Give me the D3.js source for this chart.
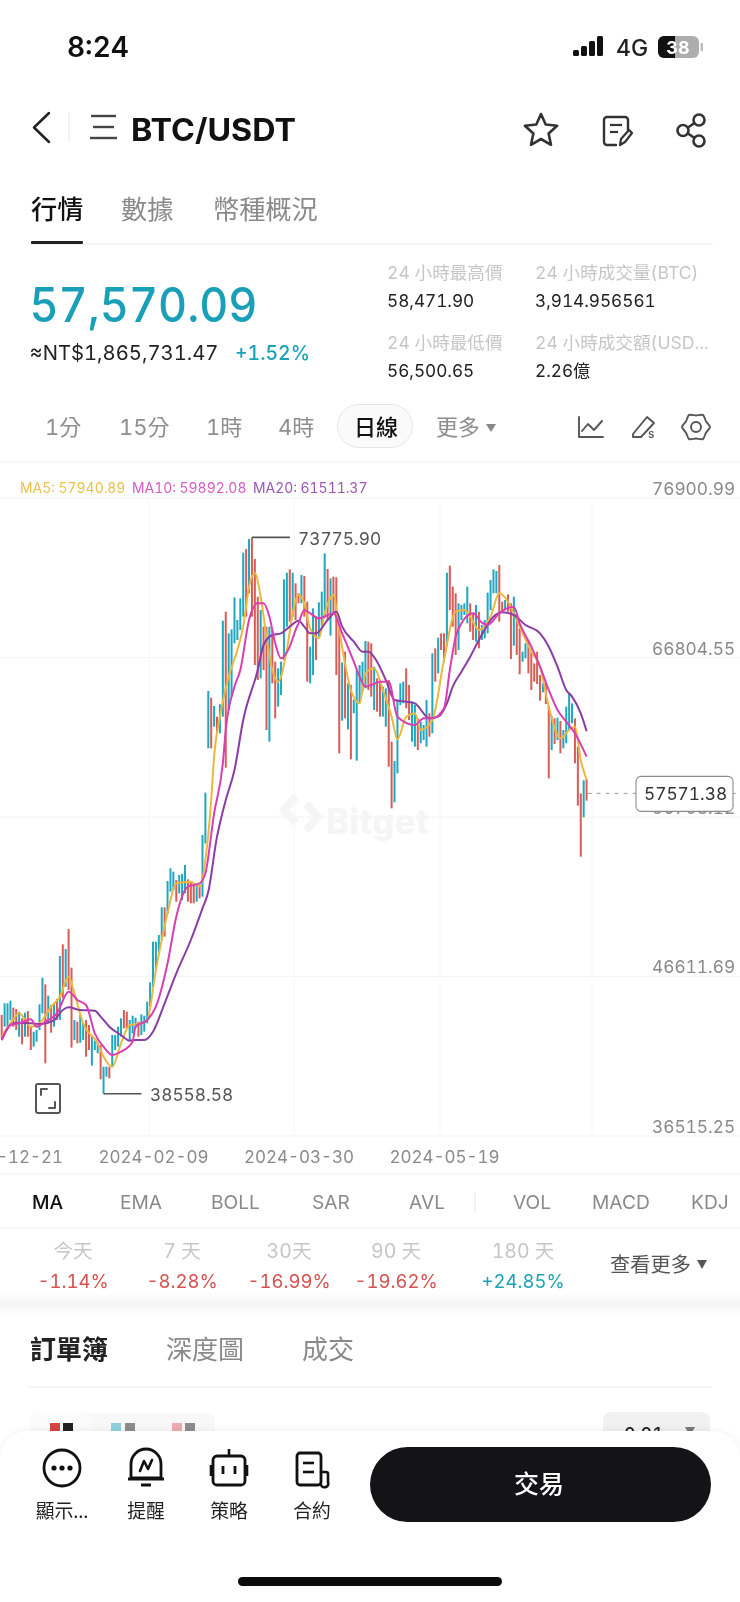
<!DOCTYPE html>
<html><head><meta charset="utf-8">
<script src="https://cdnjs.cloudflare.com/ajax/libs/d3/7.8.5/d3.min.js"></script>
<style>
html,body{margin:0;padding:0;background:#fff;overflow:hidden}
svg{display:block;filter:blur(.35px)}
text{font-family:Inter,"Noto Sans CJK TC",sans-serif;font-feature-settings:"tnum";font-variant-numeric:tabular-nums}
</style></head><body><svg id="c" width="740" height="1602" viewBox="0 0 740 1602"></svg>
<script>
// ---------- data ----------
const firstDay = "2023-12-19";
const highs = [
43541,44280,44280,44449,44006,43921,43752,43330,43689,43795,
42803,42486,42592,44217,45905,45483,44765,44174,44238,44555,
47276,48015,47719,48985,46538,43225,43119,43541,43014,43225,
42908,42212,41917,41790,41642,40271,40271,40271,42275,42275,
42803,43330,43858,43752,43225,43499,43373,43119,43584,43499,
44385,45609,48184,48184,48605,50357,50357,52024,52826,52614,
52087,52404,52467,53036,52129,51981,51876,51876,51771,54935,
57615,64051,63629,63101,62426,63207,68503,69073,67701,67954,
69980,68545,69916,72807,73039,73672,73775.9,72406,70022,69178,
68123,68123,68123,67912,65908,65486,65908,71119,71541,71752,
71541,70866,70233,71394,71330,69705,66857,69283,68756,69663,
70338,72765,71773,71183,71288,71246,67912,65865,66541,64536,
64431,63500,65380,65696,65907,67216,67174,67068,65591,64853,
64747,64325,64220,64747,60843,59620,63480,64536,64642,65485,
64430,63376,63165,62320,62110,61899,63481,62637,66435,66751,
67427,67700,67700,71541,71984,70655,70233,69600,69495,69600,
70655,69600,68967,69495,69072,68228,68545,70275,71077,71752,
71647,72026,69705,69811,70170,69600,70022,68967,68017,66541,
67068,67279,66541,65802,66541,65063,64536,64536,63122,62468,
62320,62363,62152,61582,63059,63903,63270,62320,60527,57573,
58400,58471.9];
const lows = [
42064,42803,42803,43225,42803,42592,42170,41685,42170,42170,
41326,41537,41853,42592,43647,40482,43014,42423,42803,43225,
43225,44597,45335,45124,41474,41959,41748,41790,41959,40904,
41326,40334,41326,41115,39469,38558.58,39638,39532,40271,41326,
41537,42170,42697,42697,41959,42381,42697,42170,42275,42486,
43014,44069,45335,46390,47550,48289,48500,49977,51348,51454,
50715,51243,50821,51243,50715,50610,50610,50715,50926,51032,
54400,60422,60422,61793,61477,61371,62426,59198,62848,63692,
67068,67279,67912,68756,68756,70233,68756,65696,64747,64853,
65380,61582,60844,64536,62321,63059,63797,66013,68123,68440,
68756,68545,69600,69600,68756,64641,64536,65064,66013,67490,
68123,68756,68545,67553,68967,65064,60105,62173,62321,61624,
59725,62640,59641,63270,64009,64220,64114,63692,62848,62742,
62426,62426,61793,59261,56623,57003,58839,63165,63270,62954,
62215,60843,60527,60316,60738,60949,60527,61160,61371,64642,
65169,66646,65907,66857,69178,68123,66330,66646,68545,68862,
68334,67807,67279,67174,66751,67279,67385,67701,69178,70233,
70233,68440,69072,69178,69072,66076,66920,66330,65106,65907,
66118,65169,64114,64641,64494,63439,63966,63228,58522,60316,
60696,60949,60105,60422,60738,61582,62004,59472,56792,53564,
56054,57109];
const directions = [
0,1,1,1,0,0,1,0,1,0,
0,1,1,1,1,0,1,0,1,0,
1,0,1,0,0,1,0,1,1,0,
0,1,1,1,0,1,1,0,1,1,
1,1,0,0,1,1,1,0,1,1,
1,1,1,1,1,1,0,1,1,1,
0,1,1,1,0,0,0,1,0,1,
1,1,0,1,0,1,1,0,1,1,
1,1,1,1,0,1,0,0,0,1,
0,0,1,0,0,1,1,1,1,0,
1,0,0,1,0,0,1,1,0,1,
1,1,0,1,0,0,0,1,0,1,
0,1,1,1,1,1,0,0,1,0,
0,1,1,0,0,1,1,1,1,0,
0,1,1,0,1,1,1,0,1,0,
1,0,0,1,0,0,0,1,1,1,
1,0,0,1,0,1,1,1,1,1,
1,0,0,1,0,0,1,0,0,1,
1,0,0,0,0,0,1,0,0,1,
0,1,0,1,1,1,1,0,0,0,
1,0];
// moving averages: offset in days from 2023-12-21, then price
const ma5Days = [-2,1,4,8,11,15,18,21,23,26,31,33,36,39,42,46,48,51,55,58,63,66,68,70,71,73,76,79,81,83,85,87,89,91,93,96,98,100,102,104,107,109,112,114,118,121,123,126,129,132,134,137,140,142,146,150,154,157,159,162,166,169,172,175,180,183,186,190,193,195,197,199];
const ma5Values = [42170,43014,43647,42803,43014,44069,44702,45968,44913,43014,41748,40904,40271,41748,42909,43014,43225,46390,49977,51876,51981,51665,53353,57151,59894,62426,64958,66646,68123,70655,71499,70022,67490,65380,64642,66646,68967,70127,69600,68018,67385,68967,70127,67912,64114,63270,65169,65485,64114,62426,60991,62426,62637,61582,62215,66013,69073,69178,68756,67912,68756,70233,69705,68545,66541,65591,63059,61055,61582,61793,59683,58417];
const ma10Days = [-2,1,4,8,10,13,17,21,24,27,30,33,36,39,43,44,48,51,55,58,62,66,68,71,74,75,78,80,83,86,88,90,92,94,97,99,100,102,104,107,112,115,119,121,123,125,128,131,134,140,143,146,150,152,154,156,160,163,165,169,174,176,180,183,186,189,192,195,199];
const ma10Values = [41959,42909,43014,43267,42803,43119,43647,45018,44491,44174,42381,41537,41009,41220,41853,42803,43225,44069,46812,49766,51665,51876,52509,56307,59472,61582,64325,65380,68545,69600,69600,68756,67068,66118,66857,67912,68334,69178,68967,68650,68967,67701,65907,64958,64325,64431,64642,64642,62426,61898,62321,62321,62953,65380,67490,68334,68967,68376,68228,68967,69389,68334,66857,65591,64114,62848,62110,61371,59892.08];
const ma20Days = [-2,1,3,8,11,16,19,21,25,30,32,35,39,42,44,47,50,54,58,63,67,69,72,73,75,78,81,86,88,91,94,97,100,102,104,106,110,113,115,119,122,124,127,130,133,137,140,145,148,151,153,156,159,162,167,170,174,178,183,186,189,192,194,197,199];
const ma20Values = [41959,42909,43056,43014,42972,43225,43858,44027,43858,43816,43436,42803,42275,41917,41959,41959,42486,44280,46179,48289,50293,51348,54830,55674,57151,59050,62215,65380,66962,67596,67701,68123,68503,68123,67701,67701,68545,69073,68123,67174,66541,66541,65907,64747,63481,63376,63270,62321,62426,63270,64325,65274,66224,67279,68756,69030,68861,68228,67701,66857,65591,64114,63692,62637,61511.37];
const yTicks = [76900.99,66804.55,56708.12,46611.69,36515.25];
const xTickLabels = ["2023-12-21","2024-02-09","2024-03-30","2024-05-19"];
const maLegend = [["MA5: 57940.89","#e9c24d",20],["MA10: 59892.08","#d65cc2",132],["MA20: 61511.37","#9b55b5",253]];
const lastPrice = 57571.38, peakPrice = 73775.90, troughPrice = 38558.58;
const topTabs = [["行情",31,"#111"],["數據",121,"#8a8a8a"],["幣種概況",213,"#8a8a8a"]];
const stats = [["24 小時最高價","58,471.90",387,272,300],["24 小時成交量(BTC)","3,914.956561",535,272,300],["24 小時最低價","56,500.65",387,342,370],["24 小時成交額(USD...","2.26億",535,342,370]];
const timeframes = [["1分",45],["15分",119],["1時",206],["4時",278],["更多",436]];
const indicators = [["MA",32,"#111"],["EMA",120,"#8a8a8a"],["BOLL",211,"#8a8a8a"],["SAR",312,"#8a8a8a"],["AVL",409,"#8a8a8a"],["VOL",513,"#8a8a8a"],["MACD",592,"#8a8a8a"],["KDJ",691,"#8a8a8a"]];
const periods = [["今天","-1.14%",73,0],["7 天","-8.28%",182,0],["30天","-16.99%",289,0],["90 天","-19.62%",396,0],["180 天","+24.85%",523,1]];
const bookTabs = [["訂單簿",30,"#222",600],["深度圖",166,"#8a8a8a",400],["成交",302,"#8a8a8a",400]];
const dockLabels = [["顯示...",62],["提醒",146],["策略",229],["合約",312]];

// ---------- scales ----------
const parse = d3.utcParse("%Y-%m-%d");
const start = parse(firstDay);
const dates = highs.map((_,i)=>d3.utcDay.offset(start,i));
const anchor = parse("2023-12-21");
const x = d3.scaleUtc().domain([anchor, parse("2024-05-19")]).range([7.5,444]);
const y = d3.scaleLinear().domain([36515.25,76900.99]).range([1126,488]);

const svg = d3.select("#c");
const UP="#1fa6c0", DOWN="#d85c56", GREY="#8a8a8a";
function T(s,px,py,size,fill,weight,anchorV){
  return svg.append("text").attr("x",px).attr("y",py).attr("font-size",size).attr("fill",fill||"#111")
    .attr("font-weight",weight||400).attr("text-anchor",anchorV||"start").attr("dominant-baseline","central").text(s);
}
function P(d,stroke,w,fill){
  return svg.append("path").attr("d",d).attr("fill",fill||"none").attr("stroke",stroke||"none").attr("stroke-width",w||0)
    .attr("stroke-linecap","round").attr("stroke-linejoin","round");
}
function L(x1,y1,x2,y2,c,w){return svg.append("line").attr("x1",x1).attr("y1",y1).attr("x2",x2).attr("y2",y2).attr("stroke",c).attr("stroke-width",w||1);}

// ---------- status bar ----------
T("8:24",67,47,28,"#111",600);
[[573,50,5],[581,46,9],[589,41,14],[597,36,19]].forEach(b=>svg.append("rect").attr("x",b[0]).attr("y",b[1]).attr("width",6).attr("height",b[2]+1).attr("rx",1.5).attr("fill","#111"));
T("4G",616,48,23,"#222",500);
svg.append("rect").attr("x",658).attr("y",36).attr("width",41).attr("height",22).attr("rx",6).attr("fill","#adadad");
P("M664 36H675V58H664A6 6 0 0 1 658 52V42A6 6 0 0 1 664 36Z",null,0,"#111");
svg.append("rect").attr("x",700.5).attr("y",43).attr("width",2.5).attr("height",8).attr("rx",1).attr("fill","#bbb");
T("38",678,47.5,18,"#fff",700,"middle");

// ---------- nav ----------
P("M49 113L34 127.5L49 142","#222",2.5);
L(69,112,69,142,"#eeeeee",1.5);
L(91,116,116,116,"#444",2.4);L(93,127,114,127,"#444",2.4);L(90,138,117,138,"#444",2.4);
T("BTC/USDT",131,129,31,"#111",700).attr("textLength",165).attr("lengthAdjust","spacingAndGlyphs");
const star=d3.range(10).map(i=>{const r=i%2?8:17,a=-Math.PI/2+i*Math.PI/5;return [541+r*Math.cos(a),131+r*Math.sin(a)];});
P("M"+star.map(p=>p.join(",")).join("L")+"Z","#333",2.6);
P("M628 130V120A3 3 0 0 0 625 117H607A3 3 0 0 0 604 120V142A3 3 0 0 0 607 145H616","#333",2.4);
L(610,125,622,125,"#333",2.2);L(610,132,618,132,"#333",2.2);
P("M620 145L621 139L629 130L632 133L625 142Z","#333",2.2);
svg.append("circle").attr("cx",699).attr("cy",120).attr("r",5.5).attr("fill","none").attr("stroke","#333").attr("stroke-width",2.6);
svg.append("circle").attr("cx",699).attr("cy",141).attr("r",5.5).attr("fill","none").attr("stroke","#333").attr("stroke-width",2.6);
svg.append("circle").attr("cx",683).attr("cy",130.5).attr("r",5.5).attr("fill","none").attr("stroke","#333").attr("stroke-width",2.6);
L(688,127.5,694.5,123,"#333",2.6);L(688,133.5,694.5,138,"#333",2.6);

// ---------- top tabs ----------
topTabs.forEach(t=>T(t[0],t[1],209,26.2,t[2],t[2]==="#111"?500:400));
L(31,244,713,244,"#e9e9e9",1.2);
svg.append("rect").attr("x",31).attr("y",241).attr("width",52).attr("height",3).attr("rx",1).attr("fill","#222");

// ---------- price block ----------
T("57,570.09",29.5,304,47.5,"#1a9fb9",500).attr("textLength",228).attr("lengthAdjust","spacingAndGlyphs");
T("≈NT$1,865,731.47",29.5,353,20,"#222",400).attr("textLength",189).attr("lengthAdjust","spacingAndGlyphs");
T("+1.52%",235,353,20,"#1aa3b5",500).attr("textLength",75).attr("lengthAdjust","spacingAndGlyphs");
stats.forEach(s=>{T(s[0],s[2],s[3],17.6,"#c6c6c6");T(s[1],s[2],s[4],17.2,"#222");});

// ---------- time frame row ----------
timeframes.forEach(t=>T(t[0],t[1],427,22,"#8e8e8e"));
svg.append("rect").attr("x",337.5).attr("y",404.5).attr("width",75).attr("height",43).attr("rx",21.5).attr("fill","#fafafa").attr("stroke","#e6e6e6");
T("日線",354,427,22,"#111",500);
P("M486 424H496L491 432Z",null,0,"#888");
P("M579 417V437H603M582 431L588 424L594 430L602 421","#555",1.9);
P("M633 434L647 417L654 423L641 437H633Z","#555",1.9);
T("s",648,433,12,"#555",500);
const gearPts=d3.range(12).map(i=>{const r=i%2?11.5:14,a=i*Math.PI/6;return [696+r*Math.cos(a),427+r*Math.sin(a)];});
svg.append("path").attr("d",d3.line().curve(d3.curveCardinalClosed.tension(.4))(gearPts)).attr("fill","none").attr("stroke","#555").attr("stroke-width",1.9);
svg.append("circle").attr("cx",696).attr("cy",427).attr("r",5).attr("fill","none").attr("stroke","#555").attr("stroke-width",1.9);
L(0,462,740,462,"#f1f1f1",1.2);

// ---------- chart ----------
maLegend.forEach(m=>T(m[0],m[2],488,13.9,m[1],400));
const tickDates = xTickLabels.map(parse);
// grid
svg.append("g").selectAll("line").data(yTicks).join("line")
  .attr("x1",0).attr("x2",740).attr("y1",d=>y(d)+10).attr("y2",d=>y(d)+10).attr("stroke","#f4f4f4").attr("stroke-width",1.2);
svg.append("g").selectAll("line").data(tickDates).join("line").filter((d,i)=>i>0)
  .attr("x1",d=>x(d)-4).attr("x2",d=>x(d)-4).attr("y1",498).attr("y2",1136).attr("stroke","#f8f8f8").attr("stroke-width",1.2);
L(592,498,592,1136,"#f8f8f8",1.2);
// watermark
const wm=svg.append("g");
wm.append("path").attr("d","M296 797L284 810L296 823M306 804L318 817L306 830").attr("fill","none").attr("stroke","#f5f5f5").attr("stroke-width",8);
wm.append("text").attr("x",326).attr("y",821).attr("font-size",35).attr("font-weight",800).attr("fill","#f5f5f5").attr("dominant-baseline","central").text("Bitget");
// candles
svg.append("g").selectAll("line").data(highs).join("line")
  .attr("x1",(d,i)=>x(dates[i])).attr("x2",(d,i)=>x(dates[i]))
  .attr("y1",d=>y(d)).attr("y2",(d,i)=>y(lows[i]))
  .attr("stroke",(d,i)=>directions[i]?UP:DOWN).attr("stroke-width",2);
// moving averages
const line = d3.line().x(p=>x(d3.utcDay.offset(anchor,p[0]))).y(p=>y(p[1])).curve(d3.curveMonotoneX);
[[ma5Days,ma5Values,"#eab83f"],[ma20Days,ma20Values,"#8b3da6"],[ma10Days,ma10Values,"#d93fb3"]].forEach(s=>{
  svg.append("path").attr("d",line(d3.zip(s[0],s[1]))).attr("fill","none").attr("stroke",s[2]).attr("stroke-width",2);
});
// y axis
const yAxis = svg.append("g").attr("transform","translate(652,0)")
  .call(d3.axisRight(y).tickValues(yTicks).tickSize(0).tickPadding(0).tickFormat(d=>d.toFixed(2)));
yAxis.select(".domain").remove();
yAxis.selectAll("text").attr("font-size",17.3).attr("fill",GREY).attr("dy",0).attr("dominant-baseline","central").style("font-family","Inter");
// x axis
const xAxis = svg.append("g").attr("transform","translate(0,1157)")
  .call(d3.axisBottom(x).tickValues(tickDates).tickSize(0).tickPadding(0).tickFormat(d3.utcFormat("%Y-%m-%d")));
xAxis.select(".domain").remove();
xAxis.selectAll("text").attr("font-size",17).attr("fill",GREY).attr("y",0).attr("dy",0).attr("dominant-baseline","central").style("font-family","Inter");
// high / low markers
const peakI = highs.indexOf(peakPrice), troughI = lows.indexOf(troughPrice);
L(x(dates[peakI]),y(peakPrice),x(dates[peakI])+38,y(peakPrice),"#555",1.6);
T(peakPrice.toFixed(2),298,y(peakPrice)+1,17.3,"#555");
L(x(dates[troughI]),y(troughPrice),x(dates[troughI])+38,y(troughPrice),"#555",1.6);
T(troughPrice.toFixed(2),150,y(troughPrice)+1,17.3,"#555");
// current price tag
svg.append("line").attr("x1",x(dates[dates.length-1])+1).attr("x2",740).attr("y1",y(lastPrice)).attr("y2",y(lastPrice)).attr("stroke","#999").attr("stroke-width",1).attr("stroke-dasharray","4 5");
svg.append("rect").attr("x",636).attr("y",y(lastPrice)-17).attr("width",97).attr("height",35).attr("rx",5).attr("fill","#fff").attr("stroke","#8c8c8c").attr("stroke-width",1.1);
T(lastPrice.toFixed(2),644,y(lastPrice),17.3,"#333");
// fullscreen icon
svg.append("rect").attr("x",36).attr("y",1084).attr("width",24).attr("height",29).attr("rx",2).attr("fill","#fff").attr("stroke","#555").attr("stroke-width",2);
P("M41 1095V1089H47M55 1102V1108H49","#555",2);

// ---------- indicator row ----------
L(0,1174,740,1174,"#f0f0f0",1.2);
indicators.forEach(t=>T(t[0],t[1],1202,19.2,t[2],t[2]==="#111"?500:400));
L(475,1192,475,1212,"#e6e6e6",1);
L(0,1228,740,1228,"#eeeeee",1.2);
periods.forEach(p=>{T(p[0],p[2],1251,19.5,"#c6c6c6",400,"middle");T(p[1],p[2],1281,18.5,p[3]?"#1aa3b5":"#d5524e",400,"middle");});
T("查看更多",610,1264,20.3,"#555");
P("M697 1260H707L702 1269Z",null,0,"#555");
const defs=svg.append("defs");
const g=defs.append("linearGradient").attr("id","band").attr("x1",0).attr("x2",0).attr("y1",0).attr("y2",1);
g.append("stop").attr("offset",0).attr("stop-color","#ffffff");g.append("stop").attr("offset",.5).attr("stop-color","#f5f5f5");g.append("stop").attr("offset",1).attr("stop-color","#ffffff");
svg.append("rect").attr("x",0).attr("y",1292).attr("width",740).attr("height",24).attr("fill","url(#band)");
bookTabs.forEach(t=>T(t[0],t[1],1349,26,t[2],t[3]));
L(28,1387,712,1387,"#ececec",1.2);
// partially hidden order book controls
svg.append("rect").attr("x",29).attr("y",1413).attr("width",186).attr("height",40).attr("rx",8).attr("fill","#f8f8f8");
svg.append("rect").attr("x",29).attr("y",1413).attr("width",62).attr("height",40).attr("rx",8).attr("fill","#fbfbfb");
svg.append("rect").attr("x",603).attr("y",1412).attr("width",107).attr("height",40).attr("rx",8).attr("fill","#f1f1f1");
[[50,"#d8443f"],[63,"#222"],[111,"#8fd0de"],[125,"#8c8c8c"],[172,"#f0a9b0"],[185,"#8c8c8c"]].forEach(b=>svg.append("rect").attr("x",b[0]).attr("y",1423).attr("width",10).attr("height",18).attr("fill",b[1]));
T("0.01",624,1434,18,"#222",500);
P("M685 1427H695L690 1436Z",null,0,"#777");
// bottom sheet
defs.append("filter").attr("id","sh").attr("x","-5%").attr("y","-5%").attr("width","110%").attr("height","110%").append("feDropShadow").attr("dx",0).attr("dy",-1).attr("stdDeviation",3).attr("flood-color","#000").attr("flood-opacity",.06);
svg.append("rect").attr("x",0).attr("y",1431).attr("width",740).attr("height",200).attr("rx",28).attr("fill","#fff").attr("filter","url(#sh)");
// dock icons
svg.append("circle").attr("cx",62).attr("cy",1468).attr("r",18).attr("fill","none").attr("stroke","#111").attr("stroke-width",2.8);
[54,62,70].forEach(c=>svg.append("circle").attr("cx",c).attr("cy",1468).attr("r",2.6).attr("fill","#111"));
P("M131 1478V1464A15 15 0 0 1 161 1464V1478Z","#111",2.8);
L(128,1479,164,1479,"#111",2.8);L(141,1485,151,1485,"#111",3);
P("M140 1471L144 1461L148 1469L152 1460","#111",2.6);
svg.append("rect").attr("x",213).attr("y",1456).attr("width",32).attr("height",29).attr("rx",4).attr("fill","none").attr("stroke","#111").attr("stroke-width",2.8);
L(229,1449,229,1456,"#111",2.6);L(211,1465,211,1476,"#111",2.6);L(247,1465,247,1476,"#111",2.6);
L(223,1466,223,1474,"#111",2.8);L(235,1466,235,1474,"#111",2.8);
svg.append("rect").attr("x",297).attr("y",1453).attr("width",24).attr("height",32).attr("rx",3).attr("fill","none").attr("stroke","#111").attr("stroke-width",2.8);
P("M321 1472H326A2 2 0 0 1 328 1474V1482A3 3 0 0 1 321 1485",'#111',2.6);
L(303,1463,314,1463,"#111",2.6);L(303,1472,314,1472,"#111",2.6);
dockLabels.forEach(d=>T(d[0],d[1],1511,18.8,"#222",400,"middle"));
svg.append("rect").attr("x",370).attr("y",1447).attr("width",341).attr("height",75).attr("rx",37.5).attr("fill","#141416");
T("交易",539,1484,25,"#fff",500,"middle");
svg.append("rect").attr("x",238).attr("y",1577).attr("width",264).attr("height",9).attr("rx",4.5).attr("fill","#0b0b0b");
</script></body></html>
